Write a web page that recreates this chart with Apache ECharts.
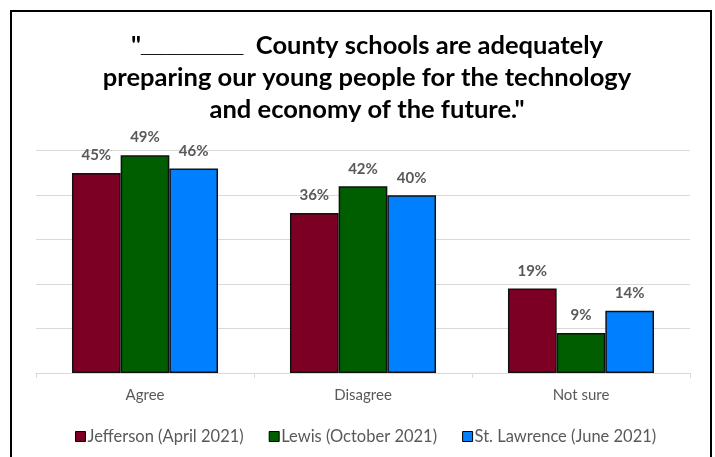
<!DOCTYPE html>
<html>
<head>
<meta charset="utf-8">
<script src="https://cdn.jsdelivr.net/npm/echarts@6/dist/echarts.min.js"></script>
<style>
  html, body { margin: 0; padding: 0; background: #fff; }
  #chart { width: 715px; height: 457px; }
</style>
</head>
<body>
<div id="chart"></div>
<script>
// Survey responses by county (percent)
const categories = ['Agree', 'Disagree', 'Not sure'];
const seriesNames = ['Jefferson (April 2021)', 'Lewis (October 2021)', 'St. Lawrence (June 2021)'];
const jefferson = [45, 36, 19];
const lewis = [49, 42, 9];
const stLawrence = [46, 40, 14];
const colors = ['#7B0023', '#005E00', '#0080FF'];

const titleLines = [
  '"{u|________}  County schools are adequately',
  'preparing our young people for the technology',
  'and economy of the future."'
];
const FONT = 'Lato, "Open Sans", sans-serif';

const chart = echarts.init(document.getElementById('chart'), null, { renderer: 'canvas' });

function makeSeries(name, data, color) {
  return {
    name: name,
    type: 'bar',
    data: data,
    barGap: '0%',
    barCategoryGap: '33%',
    itemStyle: { color: color, borderColor: '#111', borderWidth: 1.5 },
    label: {
      show: true,
      position: 'top',
      distance: 10,
      formatter: '{c}%',
      color: '#595959',
      fontWeight: 'bold',
      fontSize: 15,
      fontFamily: FONT
    }
  };
}

chart.setOption({
  animation: false,
  color: colors,
  title: {
    text: titleLines.join('\n'),
    left: 362,
    textAlign: 'center',
    top: 25,
    textStyle: {
      fontFamily: FONT,
      fontWeight: 'bold',
      fontSize: 25.5,
      lineHeight: 32,
      color: '#000',
      rich: {
        u: {
          fontFamily: '"Liberation Sans", sans-serif',
          fontWeight: 'bold',
          fontSize: 23,
          lineHeight: 32,
          color: '#000'
        }
      }
    }
  },
  graphic: [{
    type: 'rect',
    shape: { x: 11, y: 11, width: 700, height: 460 },
    style: { fill: 'none', stroke: '#000', lineWidth: 2 },
    silent: true,
    z: 100
  }],
  legend: {
    top: 423,
    left: 70,
    itemWidth: 10,
    itemHeight: 10,
    itemGap: 25,
    textStyle: { fontFamily: FONT, fontSize: 16.5, color: '#595959', padding: [0, 0, 0, -3] },
    data: seriesNames.map((n, i) => ({
      name: n,
      icon: 'rect',
      itemStyle: { color: colors[i], borderColor: '#000', borderWidth: 1 }
    }))
  },
  grid: { left: 36, right: 25, top: 150.7, bottom: 84 },
  xAxis: {
    type: 'category',
    data: categories,
    axisLine: { lineStyle: { color: '#d9d9d9', width: 1 } },
    axisTick: { show: true, length: 5, lineStyle: { color: '#d9d9d9' } },
    axisLabel: { color: '#595959', fontSize: 15, fontFamily: FONT, margin: 15 }
  },
  yAxis: {
    type: 'value',
    min: 0,
    max: 50,
    interval: 10,
    axisLabel: { show: false },
    axisLine: { show: false },
    axisTick: { show: false },
    splitLine: { lineStyle: { color: '#d9d9d9', width: 1 } }
  },
  series: [
    makeSeries(seriesNames[0], jefferson, colors[0]),
    makeSeries(seriesNames[1], lewis, colors[1]),
    makeSeries(seriesNames[2], stLawrence, colors[2])
  ]
});
</script>
</body>
</html>
